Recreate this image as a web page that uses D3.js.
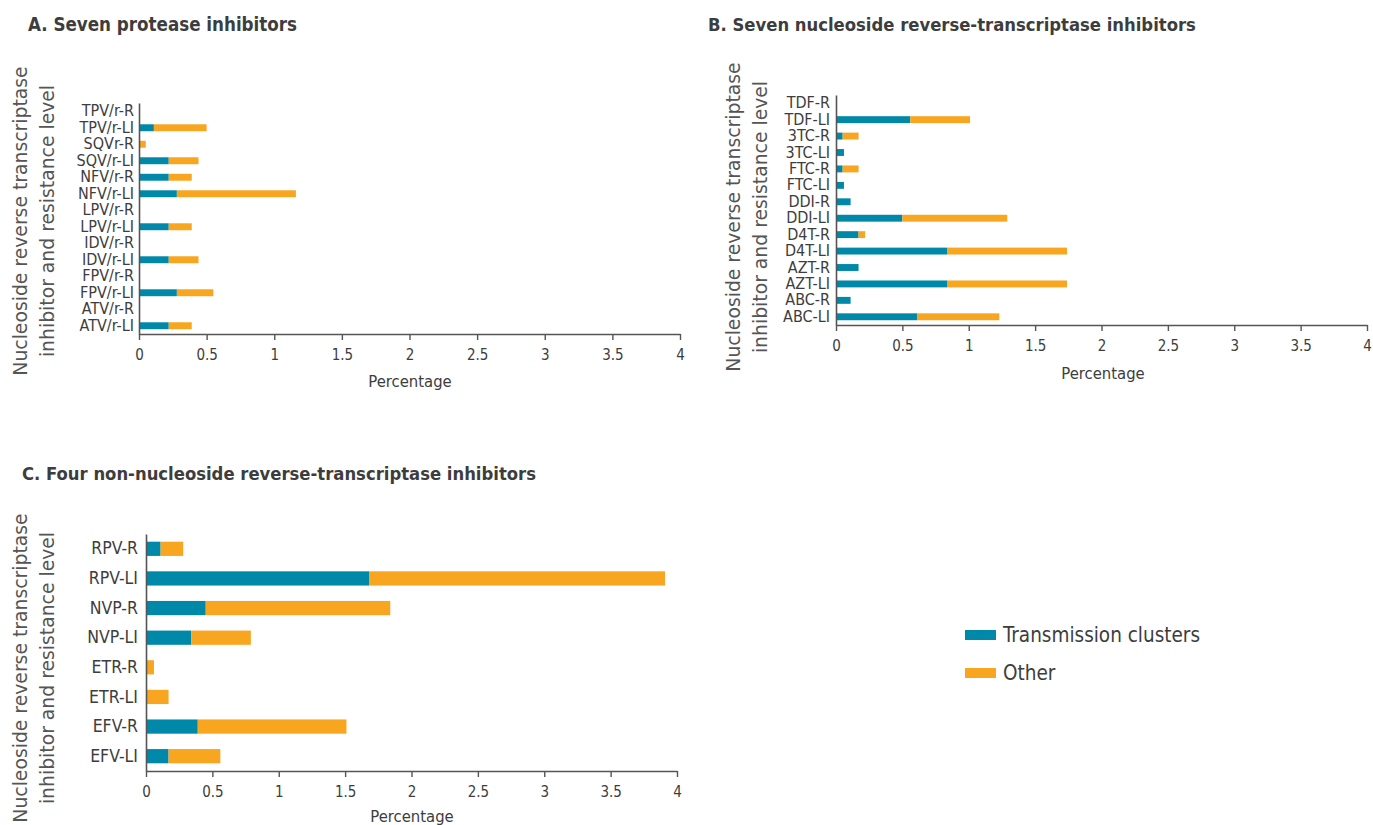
<!DOCTYPE html>
<html>
<head>
<meta charset="utf-8">
<script src="https://cdn.jsdelivr.net/npm/d3@7"></script>
<style>
  html, body { margin: 0; padding: 0; background: #fff; }
  svg { display: block; }
</style>
</head>
<body>
<script>
// ---------- DATA ----------
const catsA = ["TPV/r-R","TPV/r-LI","SQVr-R","SQV/r-LI","NFV/r-R","NFV/r-LI","LPV/r-R","LPV/r-LI","IDV/r-R","IDV/r-LI","FPV/r-R","FPV/r-LI","ATV/r-R","ATV/r-LI"];
const clusterA = [0, 0.11, 0, 0.22, 0.22, 0.28, 0, 0.22, 0, 0.22, 0, 0.28, 0, 0.22];
const otherA   = [0, 0.39, 0.05, 0.22, 0.17, 0.88, 0, 0.17, 0, 0.22, 0, 0.27, 0, 0.17];

const catsB = ["TDF-R","TDF-LI","3TC-R","3TC-LI","FTC-R","FTC-LI","DDI-R","DDI-LI","D4T-R","D4T-LI","AZT-R","AZT-LI","ABC-R","ABC-LI"];
const clusterB = [0, 0.56, 0.05, 0.06, 0.05, 0.06, 0.11, 0.50, 0.17, 0.84, 0.17, 0.84, 0.11, 0.61];
const otherB   = [0, 0.45, 0.12, 0, 0.12, 0, 0, 0.79, 0.05, 0.90, 0, 0.90, 0, 0.62];

const catsC = ["RPV-R","RPV-LI","NVP-R","NVP-LI","ETR-R","ETR-LI","EFV-R","EFV-LI"];
const clusterC = [0.11, 1.68, 0.45, 0.34, 0, 0, 0.39, 0.17];
const otherC   = [0.17, 2.23, 1.39, 0.45, 0.06, 0.17, 1.12, 0.39];

const xTicks = [0, 0.5, 1, 1.5, 2, 2.5, 3, 3.5, 4];
const seriesNames = ["Transmission clusters", "Other"];
const titles = ["A.  Seven protease inhibitors", "B. Seven nucleoside reverse-transcriptase inhibitors", "C. Four non-nucleoside reverse-transcriptase inhibitors"];
const yTitle = ["Nucleoside reverse transcriptase", "inhibitor and resistance level"];

// ---------- STYLE ----------
const COLORS = ["#0088a9", "#f8a520"];
const TEXT = "#3d3d3d";
const AXIS = "#555";
const NARROW = "'DejaVu Sans Condensed', 'Liberation Sans Narrow', sans-serif";
const WIDE = "'DejaVu Sans', Verdana, sans-serif";

const W = 1373, H = 825;
const svg = d3.select("body").append("svg").attr("width", W).attr("height", H);

function panel(cfg) {
  const g = svg.append("g");
  const x = d3.scaleLinear().domain([0, 4]).range([cfg.x0, cfg.x1]);
  const y = d3.scaleBand().domain(cfg.cats).range([cfg.yTop, cfg.yBot]).paddingInner(cfg.pad).paddingOuter(cfg.pad / 2);

  // title
  g.append("text").attr("x", cfg.titleX).attr("y", cfg.titleY)
    .attr("font-family", NARROW).attr("font-weight", "bold").attr("font-size", cfg.titleSize)
    .attr("fill", TEXT).text(cfg.title);

  // stacked bars
  const rows = cfg.cats.map((c, i) => ({ cat: c, a: cfg.cluster[i], b: cfg.other[i] }));
  g.selectAll("rect.a").data(rows).enter().append("rect")
    .attr("x", d => x(0)).attr("y", d => y(d.cat))
    .attr("width", d => x(d.a) - x(0)).attr("height", y.bandwidth())
    .attr("fill", COLORS[0]);
  g.selectAll("rect.b").data(rows).enter().append("rect")
    .attr("x", d => x(d.a)).attr("y", d => y(d.cat))
    .attr("width", d => x(d.a + d.b) - x(d.a)).attr("height", y.bandwidth())
    .attr("fill", COLORS[1]);

  // x axis
  const xa = g.append("g").attr("transform", `translate(0,${cfg.yBot})`)
    .call(d3.axisBottom(x).tickValues(xTicks).tickFormat(d3.format("~g")).tickSize(6).tickPadding(cfg.tickPad).tickSizeOuter(0));
  xa.select(".domain").attr("stroke", AXIS).attr("stroke-width", 1.6);
  xa.selectAll(".tick line").attr("stroke", AXIS).attr("stroke-width", 1.4);
  xa.selectAll(".tick text").attr("font-family", NARROW).attr("font-size", cfg.tickSize).attr("fill", TEXT);

  // y axis: line + labels
  const ya = g.append("g").attr("transform", `translate(${cfg.x0},0)`)
    .call(d3.axisLeft(y).tickSize(0).tickPadding(cfg.catPad));
  ya.select(".domain").attr("stroke", AXIS).attr("stroke-width", 1.6);
  ya.selectAll(".tick text").attr("font-family", NARROW).attr("font-size", cfg.catSize).attr("fill", TEXT);

  // x axis title
  g.append("text").attr("x", cfg.xTitleX).attr("y", cfg.xTitleY).attr("text-anchor", "middle")
    .attr("font-family", NARROW).attr("font-size", 16.5).attr("fill", TEXT).text("Percentage");

  // y axis title (two lines)
  yTitle.forEach((t, i) => {
    g.append("text")
      .attr("transform", `translate(${cfg.yTitleX + i * 27},${cfg.yTitleY}) rotate(-90)`)
      .attr("text-anchor", "middle").attr("font-family", WIDE).attr("font-size", 18.8)
      .attr("fill", "#555").text(t);
  });
}

panel({ title: titles[0], titleX: 28, titleY: 31, titleSize: 18.6,
  cats: catsA, cluster: clusterA, other: otherA,
  x0: 139, x1: 680, yTop: 103, yBot: 334, pad: 0.58,
  tickPad: 9, tickSize: 15, catSize: 16, catPad: 5,
  xTitleX: 410, xTitleY: 387, yTitleX: 27, yTitleY: 221 });

panel({ title: titles[1], titleX: 708, titleY: 31, titleSize: 18.3,
  cats: catsB, cluster: clusterB, other: otherB,
  x0: 836, x1: 1367, yTop: 95, yBot: 325, pad: 0.58,
  tickPad: 9, tickSize: 15, catSize: 16, catPad: 6,
  xTitleX: 1103, xTitleY: 379, yTitleX: 740, yTitleY: 217 });

panel({ title: titles[2], titleX: 22, titleY: 480, titleSize: 18.3,
  cats: catsC, cluster: clusterC, other: otherC,
  x0: 146, x1: 677, yTop: 534, yBot: 771, pad: 0.52,
  tickPad: 9, tickSize: 15, catSize: 17.5, catPad: 8,
  xTitleX: 412, xTitleY: 822, yTitleX: 27, yTitleY: 668 });

// legend
const lg = svg.append("g");
seriesNames.forEach((s, i) => {
  lg.append("rect").attr("x", 965).attr("y", 630 + i * 38).attr("width", 31).attr("height", 10).attr("fill", COLORS[i]);
  lg.append("text").attr("x", 1003).attr("y", 642 + i * 38).attr("font-family", NARROW)
    .attr("font-size", 20.5).attr("fill", TEXT).text(s);
});
</script>
</body>
</html>
